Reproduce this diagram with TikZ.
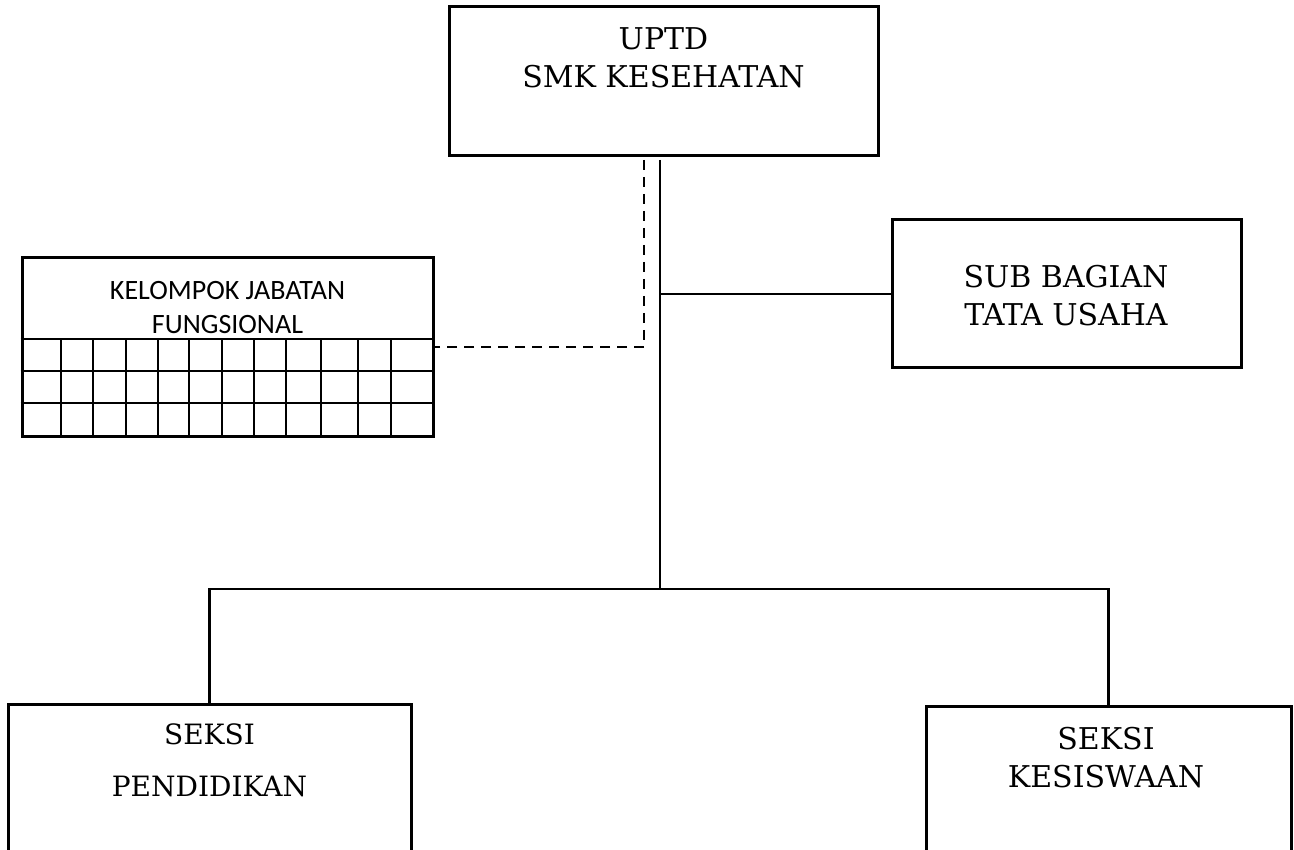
\documentclass[tikz,border=0pt]{standalone}
\usepackage{fontspec}
\setmainfont{DejaVu Serif}
\newfontfamily\kjffont{Carlito}
\usetikzlibrary{positioning}

\tikzset{
  unit/.style={draw, line width=3pt, inner sep=0pt},
  caption/.style={inner sep=0pt, align=center, anchor=north},
  link/.style={line width=2.5pt},
  dashlink/.style={line width=2.5pt, dash pattern=on 10pt off 7pt},
  cell/.style={line width=2pt}
}

\begin{document}
\begin{tikzpicture}[x=1pt, y=-1pt]
  \useasboundingbox (0,0) rectangle (1294,850);
  \clip (0,0) rectangle (1294,850);

  % kotak
  \node[unit, minimum width=429pt, minimum height=149pt] (uptd) at (663.5,81.5) {};
  \node[unit, minimum width=349pt, minimum height=148pt] (tu) at (1066.5,294) {};
  \node[unit, minimum width=411pt, minimum height=178pt] (kjf) at (227.5,347) {};
  \node[unit, minimum width=403pt, minimum height=200pt] (pend) at (209.5,804) {};
  \node[unit, minimum width=365pt, minimum height=200pt] (kes) at (1108.5,806) {};

  % teks
  \node[caption, font=\fontsize{30}{38}\selectfont] (uptd-txt) at (663.5,27) {UPTD\\SMK KESEHATAN};
  \node[caption, font=\fontsize{30}{38}\selectfont] (tu-txt) at (1066,265) {SUB BAGIAN\\TATA USAHA};
  \node[caption, font=\kjffont\fontsize{28}{34}\selectfont] (kjf-txt) at (227.5,281) {KELOMPOK JABATAN\\FUNGSIONAL};
  \node[caption, font=\fontsize{28}{52}\selectfont] (pend-txt) at (209.5,724) {SEKSI\\PENDIDIKAN};
  \node[caption, font=\fontsize{30}{38}\selectfont] (kes-txt) at (1106,727) {SEKSI\\KESISWAAN};

  % tabel jabatan fungsional
  \foreach \y in {339,371,403}
    \draw[cell] (kjf.west |- 0,\y) -- (kjf.east |- 0,\y);
  \foreach \x in {61,93,126,158,189,222,254,286,321,358,391}
    \draw[cell] (\x,339) -- (kjf.south -| \x,0);

  % garis
  \coordinate (trunk) at (660,160);
  \coordinate (fork) at (660,589);
  \coordinate (dashtop) at (644,160);
  \draw[link] (trunk) -- (fork);
  \draw[link] (trunk |- tu.west) -- (tu.west);
  \draw[dashlink] (dashtop) |- (kjf.east);
  \draw[link] (pend.north) |- (fork) -| (kes.north);
\end{tikzpicture}
\end{document}
